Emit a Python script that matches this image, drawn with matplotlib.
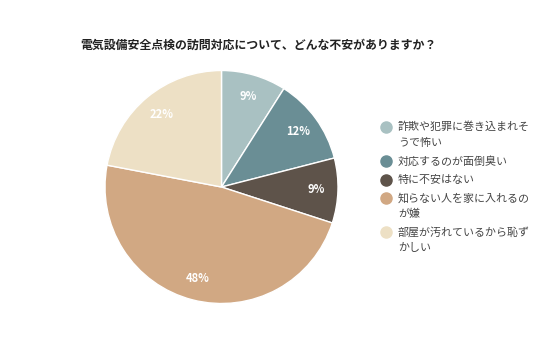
import matplotlib
matplotlib.use("Agg")
import matplotlib.pyplot as plt

plt.rcParams['font.family'] = ['Noto Sans CJK JP', 'DejaVu Sans']

# data
title = "電気設備安全点検の訪問対応について、どんな不安がありますか？"
labels = ["詐欺や犯罪に巻き込まれそ\nうで怖い", "対応するのが面倒臭い", "特に不安はない",
          "知らない人を家に入れるの\nが嫌", "部屋が汚れているから恥ず\nかしい"]
values = [9, 12, 9, 48, 22]
colors = ["#A9C1C2", "#6A8E95", "#5E534A", "#D1A883", "#EDE0C5"]

W, H = 536, 357
fig = plt.figure(figsize=(W / 100, H / 100), dpi=100)

# pie
cx, cy, r = 221.5, 187, 116.5
ax = fig.add_axes([(cx - r) / W, 1 - (cy + r) / H, 2 * r / W, 2 * r / H])
wedges, texts, autotexts = ax.pie(
    values, colors=colors, startangle=90, counterclock=False,
    autopct=lambda p: f"{p:.0f}%", pctdistance=0.81,
    wedgeprops=dict(edgecolor="white", linewidth=1.0),
    textprops=dict(color="white", fontsize=8, fontweight="bold"))
ax.set_aspect("equal")
ax.set_xlim(-1, 1)
ax.set_ylim(-1, 1)

fig.text(80 / W, 1 - 45 / H, title, fontsize=8.6, fontweight="bold",
         color="#222222", va="center", ha="left")

# legend (marker aligned with first line)
y = 127
for lab, col in zip(labels, colors):
    fig.add_artist(plt.Line2D([386 / W], [1 - y / H], marker="o", markersize=8,
                              color=col, linestyle="none"))
    lines = lab.split("\n")
    for i, ln in enumerate(lines):
        fig.text(398 / W, 1 - (y + i * 15.5) / H, ln, fontsize=7.9,
                 color="#444444", va="center", ha="left")
    y += 15.5 * (len(lines) - 1) + 18.5

fig.savefig("out.png", dpi=100)
